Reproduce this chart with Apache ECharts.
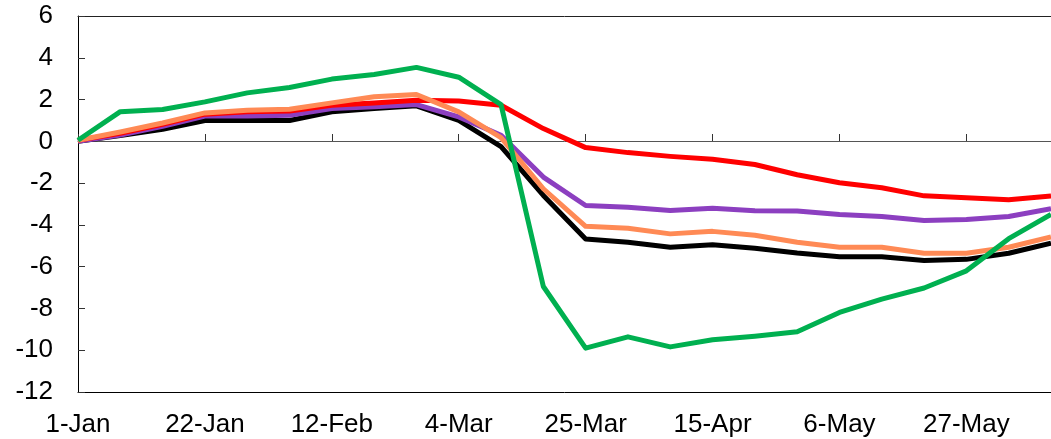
<!DOCTYPE html>
<html>
<head>
<meta charset="utf-8">
<script src="https://cdn.jsdelivr.net/npm/echarts@6/dist/echarts.min.js"></script>
<style>
html,body{margin:0;padding:0;background:#fff;}
#chart{width:1051px;height:439px;}
</style>
</head>
<body>
<div id="chart"></div>
<script>
const categories = ['1-Jan','8-Jan','15-Jan','22-Jan','29-Jan','5-Feb','12-Feb','19-Feb','26-Feb','4-Mar','11-Mar','18-Mar','25-Mar','1-Apr','8-Apr','15-Apr','22-Apr','29-Apr','6-May','13-May','20-May','27-May','3-Jun','10-Jun'];
const yTicks = [6, 4, 2, 0, -2, -4, -6, -8, -10, -12];
const greenVals  = [0.05, 1.42, 1.52, 1.89, 2.32, 2.58, 2.98, 3.2, 3.54, 3.07, 1.76, -6.95, -9.9, -9.36, -9.84, -9.5, -9.33, -9.12, -8.19, -7.55, -7.02, -6.2, -4.66, -3.5];
const redVals    = [0.05, 0.38, 0.82, 1.3, 1.42, 1.45, 1.73, 1.84, 1.97, 1.93, 1.73, 0.61, -0.3, -0.54, -0.72, -0.86, -1.11, -1.6, -1.98, -2.22, -2.61, -2.7, -2.8, -2.62];
const orangeVals = [0.05, 0.45, 0.88, 1.36, 1.49, 1.54, 1.84, 2.13, 2.24, 1.41, 0.18, -2.27, -4.07, -4.16, -4.43, -4.31, -4.5, -4.83, -5.07, -5.07, -5.36, -5.36, -5.07, -4.58];
const purpleVals = [0.0, 0.3, 0.72, 1.21, 1.21, 1.25, 1.57, 1.65, 1.76, 1.17, 0.29, -1.71, -3.07, -3.15, -3.31, -3.2, -3.32, -3.34, -3.5, -3.6, -3.79, -3.74, -3.6, -3.23];
const blackVals  = [0.0, 0.28, 0.58, 1.0, 1.0, 1.0, 1.41, 1.57, 1.7, 1.0, -0.25, -2.59, -4.67, -4.83, -5.07, -4.95, -5.12, -5.35, -5.52, -5.52, -5.71, -5.65, -5.36, -4.87];

const FONT = '"Liberation Sans", Arial, sans-serif';
const chart = echarts.init(document.getElementById('chart'), null, {renderer: 'canvas'});

function lineSeries(name, data, color) {
  return {
    name: name, type: 'line', data: data, xAxisIndex: 0, yAxisIndex: 0,
    symbol: 'none', smooth: false, animation: false,
    lineStyle: {color: color, width: 5, join: 'round', cap: 'butt'},
    itemStyle: {color: color}
  };
}

chart.setOption({
  animation: false,
  backgroundColor: '#fff',
  grid: [
    {left: 78, top: 16, width: 975, height: 376},
    {left: 78, top: 16, width: 975, height: 125}
  ],
  xAxis: [
    {
      type: 'category', gridIndex: 0, data: categories, boundaryGap: false, position: 'bottom',
      axisLine: {onZero: false, lineStyle: {color: '#000', width: 1}},
      axisTick: {show: false},
      axisLabel: {interval: 2, color: '#000', fontSize: 26, fontFamily: FONT, margin: 20},
      splitLine: {show: false}
    },
    {
      type: 'category', gridIndex: 0, data: categories, boundaryGap: false, position: 'top',
      axisLine: {onZero: false, lineStyle: {color: '#222', width: 1}},
      axisTick: {show: false}, axisLabel: {show: false}, splitLine: {show: false}
    },
    {
      type: 'category', gridIndex: 1, data: categories, boundaryGap: false, position: 'bottom',
      axisLine: {onZero: false, lineStyle: {color: '#555', width: 1}},
      axisTick: {show: true, inside: true, length: 7, interval: 2, lineStyle: {color: '#333', width: 1}},
      axisLabel: {show: false}, splitLine: {show: false}
    }
  ],
  yAxis: [
    {
      type: 'value', gridIndex: 0, min: -12, max: 6, interval: 2,
      axisLine: {show: true, lineStyle: {color: '#000', width: 1}},
      axisTick: {show: true, inside: true, length: 7, lineStyle: {color: '#333'}},
      axisLabel: {color: '#000', fontSize: 26, fontFamily: FONT, margin: 25,
        formatter: function (v) { return yTicks.indexOf(v) >= 0 ? String(v) : ''; }},
      splitLine: {show: false}
    },
    {
      type: 'value', gridIndex: 1, min: 0, max: 6, show: false
    }
  ],
  series: [
    lineSeries('Black', blackVals, '#000000'),
    lineSeries('Purple', purpleVals, '#8C3FC0'),
    lineSeries('Red', redVals, '#FF0000'),
    lineSeries('Orange', orangeVals, '#FF8A55'),
    lineSeries('Green', greenVals, '#00B050')
  ]
});
</script>
</body>
</html>
